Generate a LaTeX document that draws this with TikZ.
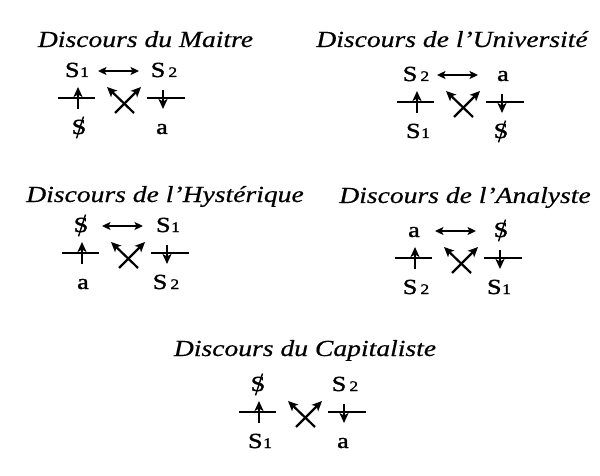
\documentclass[tikz,border=0pt]{standalone}
\usepackage{fontspec}
\setmainfont{Liberation Serif}
\newfontfamily\titlefont[FakeStretch=1.2,FakeBold=0.5]{Liberation Serif}
\newfontfamily\symfont[FakeStretch=1.22,FakeBold=1.5]{Liberation Serif}
\usetikzlibrary{arrows.meta}
\newcommand\subd[1]{{\fontsize{14.5}{16}\selectfont #1}}
\newcommand\Sone{S\kern0.5pt\subd{1}}
\newcommand\Stwo{S\kern3pt\subd{2}}
\tikzset{
  titletext/.style={font=\titlefont\itshape\fontsize{23}{27}\selectfont, anchor=base, inner sep=0pt},
  term/.style={font=\symfont\fontsize{21.5}{25}\selectfont, anchor=base, inner sep=0pt},
  barline/.style={line width=2.2pt},
  vec/.style={line width=2.2pt, -{Stealth[length=10pt,width=9pt,inset=2.5pt]}},
  dbl/.style={line width=2.2pt, {Stealth[length=8.5pt,width=8pt,inset=2pt]}-{Stealth[length=8.5pt,width=8pt,inset=2pt]}},
  slashline/.style={line width=1.4pt}
}
% #1 name, #2 bar x, #3 bar y, #4 TL, #5 TR, #6 BL, #7 BR
\newcommand\discours[7]{%
  \begin{scope}[shift={(#2,#3)}]
    \coordinate (#1-lb0) at (0,0);
    \coordinate (#1-lb1) at (37,0);
    \coordinate (#1-rb0) at (89,0);
    \coordinate (#1-rb1) at (127,0);
    \coordinate (#1-ua0) at (20,11);
    \coordinate (#1-ua1) at (20,-11);
    \coordinate (#1-da0) at (105,-8);
    \coordinate (#1-da1) at (105,11);
    \coordinate (#1-xa0) at (57,15);
    \coordinate (#1-xa1) at (83,-11);
    \coordinate (#1-xb0) at (76,15);
    \coordinate (#1-xb1) at (49,-11);
    \coordinate (#1-d0) at (40,-27);
    \coordinate (#1-d1) at (81,-27);
    \draw[barline] (#1-lb0) -- (#1-lb1);
    \draw[barline] (#1-rb0) -- (#1-rb1);
    \draw[vec] (#1-ua0) -- (#1-ua1);
    \draw[vec] (#1-da0) -- (#1-da1);
    \draw[vec] (#1-xa0) -- (#1-xa1);
    \draw[vec] (#1-xb0) -- (#1-xb1);
    \node[term] (#1-tl) at (19,-21) {#4};
    \node[term] (#1-tr) at (106,-21) {#5};
    \node[term] (#1-bl) at (21,36) {#6};
    \node[term] (#1-br) at (104,36) {#7};
  \end{scope}}
\newcommand\slashS[1]{\draw[slashline] ([shift={(4.5,-3)}]#1.north) -- ([shift={(-2.5,4)}]#1.south);}
\begin{document}
\begin{tikzpicture}[x=1pt,y=-1pt]
\fill[white] (0,0) rectangle (600,476);
\path[use as bounding box] (0,0) rectangle (600,476);
% titles
\node[titletext] (t-m) at (145.5,47) {Discours du Maitre};
\node[titletext] (t-u) at (452,47) {Discours de l’Université};
\node[titletext] (t-h) at (165,202) {Discours de l’Hystérique};
\node[titletext] (t-a) at (465,203) {Discours de l’Analyste};
\node[titletext] (t-c) at (305,356) {Discours du Capitaliste};
% diagrams
\discours{m}{58}{98}{\Sone}{\Stwo}{S}{a}
\draw[dbl] (m-d0) -- (m-d1);
\slashS{m-bl}
\discours{u}{397}{102}{\Stwo}{a}{\Sone}{S}
\draw[dbl] (u-d0) -- (u-d1);
\slashS{u-br}
\discours{h}{62}{253}{S}{\Sone}{a}{\Stwo}
\draw[dbl] (h-d0) -- (h-d1);
\slashS{h-tl}
\discours{a}{395}{258}{a}{S}{\Stwo}{\Sone}
\draw[dbl] (a-d0) -- (a-d1);
\slashS{a-tr}
\discours{c}{239}{412}{S}{\Stwo}{\Sone}{a}
\slashS{c-tl}
\end{tikzpicture}
\end{document}
